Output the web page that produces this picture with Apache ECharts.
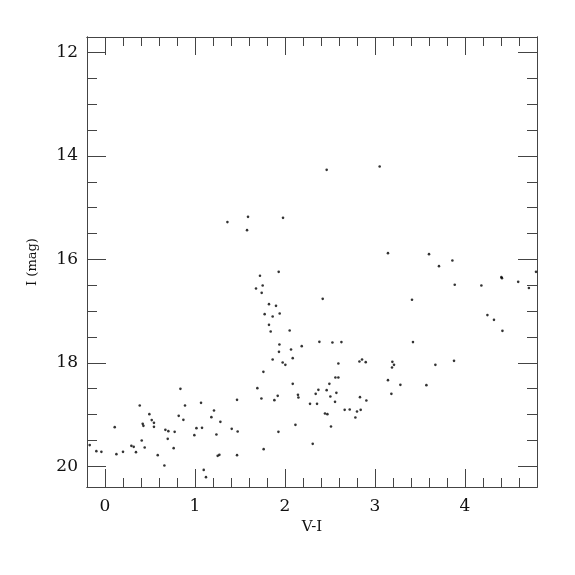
<!DOCTYPE html>
<html>
<head>
<meta charset="utf-8">
<script src="https://cdn.jsdelivr.net/npm/echarts@6/dist/echarts.min.js"></script>
<style>html,body{margin:0;padding:0;background:#fff}#chart{width:575px;height:575px}</style>
</head>
<body>
<div id="chart"></div>
<script>
// V-I colour values
var vi = [
-0.170,-0.096,-0.040,0.108,0.127,0.200,0.293,0.319,0.344,0.386,
0.408,0.419,0.427,0.441,0.493,0.519,0.544,0.544,0.586,0.660,
0.671,0.704,0.697,0.774,0.763,0.819,0.838,0.871,0.889,0.993,
1.016,1.078,1.067,1.097,1.122,1.182,1.211,1.238,1.252,1.271,
1.282,1.408,1.467,1.474,1.467,1.693,1.738,1.760,1.763,1.882,
1.919,1.927,1.578,3.144,3.600,1.930,1.722,1.752,1.678,1.741,
2.419,3.411,1.822,1.900,1.774,1.863,1.941,1.822,1.841,2.052,
2.382,2.527,2.627,3.422,1.938,1.933,2.067,2.186,1.863,2.086,
1.974,2.004,2.593,2.827,2.856,2.897,3.193,3.211,3.189,2.560,
2.593,3.144,3.282,3.571,2.086,2.493,2.371,2.463,2.571,3.182,
2.144,2.149,2.341,2.504,2.833,2.904,2.556,2.278,2.356,2.663,
2.719,2.841,2.800,2.444,2.471,2.782,2.116,2.511,2.308,3.052,
3.860,3.711,4.789,4.404,4.411,4.591,4.710,3.886,4.182,4.249,
4.322,4.416,2.463,1.589,1.360,1.978,3.878,3.671
];
// I magnitudes
var imag = [
19.59,19.707,19.72,19.243,19.765,19.72,19.604,19.624,19.726,18.825,
19.502,19.179,19.218,19.637,18.992,19.107,19.160,19.237,19.784,19.985,
19.295,19.320,19.469,19.334,19.649,19.024,18.502,19.102,18.825,19.398,
19.262,19.256,18.773,20.069,20.210,19.050,18.922,19.386,19.798,19.778,
19.140,19.276,18.715,19.328,19.784,18.489,18.690,18.174,19.668,18.721,
18.638,19.334,15.434,15.879,15.898,16.240,16.317,16.505,16.563,16.646,
16.762,16.781,16.865,16.898,17.058,17.104,17.046,17.265,17.394,17.375,
17.594,17.607,17.599,17.599,17.646,17.787,17.742,17.677,17.936,17.909,
17.994,18.038,18.013,17.974,17.936,17.986,17.980,18.038,18.091,18.284,
18.284,18.334,18.425,18.431,18.406,18.406,18.522,18.528,18.580,18.599,
18.618,18.670,18.599,18.651,18.663,18.729,18.754,18.792,18.792,18.908,
18.903,18.908,18.941,18.980,18.992,19.057,19.198,19.231,19.566,14.204,
16.022,16.130,16.240,16.343,16.362,16.434,16.553,16.491,16.505,17.077,
17.168,17.381,14.268,15.177,15.279,15.196,17.961,18.038
];
var xMajor = [0, 1, 2, 3, 4];
var xMinor = [0,0.2,0.4,0.6,0.8,1,1.2,1.4,1.6,1.8,2,2.2,2.4,2.6,2.8,3,3.2,3.4,3.6,3.8,4,4.2,4.4,4.6];
var yMajor = [12, 14, 16, 18, 20];
var yMinor = [12,12.5,13,13.5,14,14.5,15,15.5,16,16.5,17,17.5,18,18.5,19,19.5,20];

var points = vi.map(function (v, i) { return [v, imag[i]]; });
var FONT = 'DejaVu Serif';
var LINE = '#444';

function xAx(pos, ticks, len, labels) {
  return {
    type: 'value', min: -0.2, max: 4.8, position: pos, gridIndex: 0,
    axisLine: { show: true, onZero: false, lineStyle: { color: LINE, width: 1 } },
    axisTick: { show: true, inside: true, length: len, customValues: ticks, lineStyle: { color: LINE, width: 1 } },
    axisLabel: labels ? { show: true, customValues: xMajor, margin: 11, color: '#111', fontFamily: FONT, fontSize: 17 } : { show: false },
    splitLine: { show: false }
  };
}
function yAx(pos, ticks, len, labels) {
  return {
    type: 'value', min: 11.7, max: 20.4, inverse: true, position: pos, gridIndex: 0,
    axisLine: { show: true, onZero: false, lineStyle: { color: LINE, width: 1 } },
    axisTick: { show: true, inside: true, length: len, customValues: ticks, lineStyle: { color: LINE, width: 1 } },
    axisLabel: labels ? { show: true, customValues: yMajor, margin: 9, color: '#111', fontFamily: FONT, fontSize: 17 } : { show: false },
    splitLine: { show: false }
  };
}

var xa0 = xAx('bottom', xMinor, 9, false);
var xa1 = xAx('bottom', xMajor, 18, true);
xa1.name = 'V-I'; xa1.nameLocation = 'middle'; xa1.nameGap = 32;
xa1.nameTextStyle = { fontFamily: FONT, fontSize: 15, color: '#111' };
var xa2 = xAx('top', xMinor, 9, false);
var xa3 = xAx('top', xMajor, 18, false);

var ya0 = yAx('left', yMinor, 10, false);
var ya1 = yAx('left', yMajor, 19, true);
ya1.name = 'I (mag)'; ya1.nameLocation = 'middle'; ya1.nameGap = 48;
ya1.nameTextStyle = { fontFamily: FONT, fontSize: 13, color: '#111' };
var ya2 = yAx('right', yMinor, 10, false);
var ya3 = yAx('right', yMajor, 19, false);

var chart = echarts.init(document.getElementById('chart'), null, { renderer: 'canvas' });
chart.setOption({
  backgroundColor: '#fff',
  animation: false,
  grid: { left: 87, top: 37, width: 450, height: 450, containLabel: false },
  xAxis: [xa0, xa1, xa2, xa3],
  yAxis: [ya0, ya1, ya2, ya3],
  series: [{
    type: 'scatter', xAxisIndex: 0, yAxisIndex: 0,
    data: points, symbol: 'circle', symbolSize: 2.6,
    itemStyle: { color: '#000' }, silent: true
  }]
});
</script>
</body>
</html>
